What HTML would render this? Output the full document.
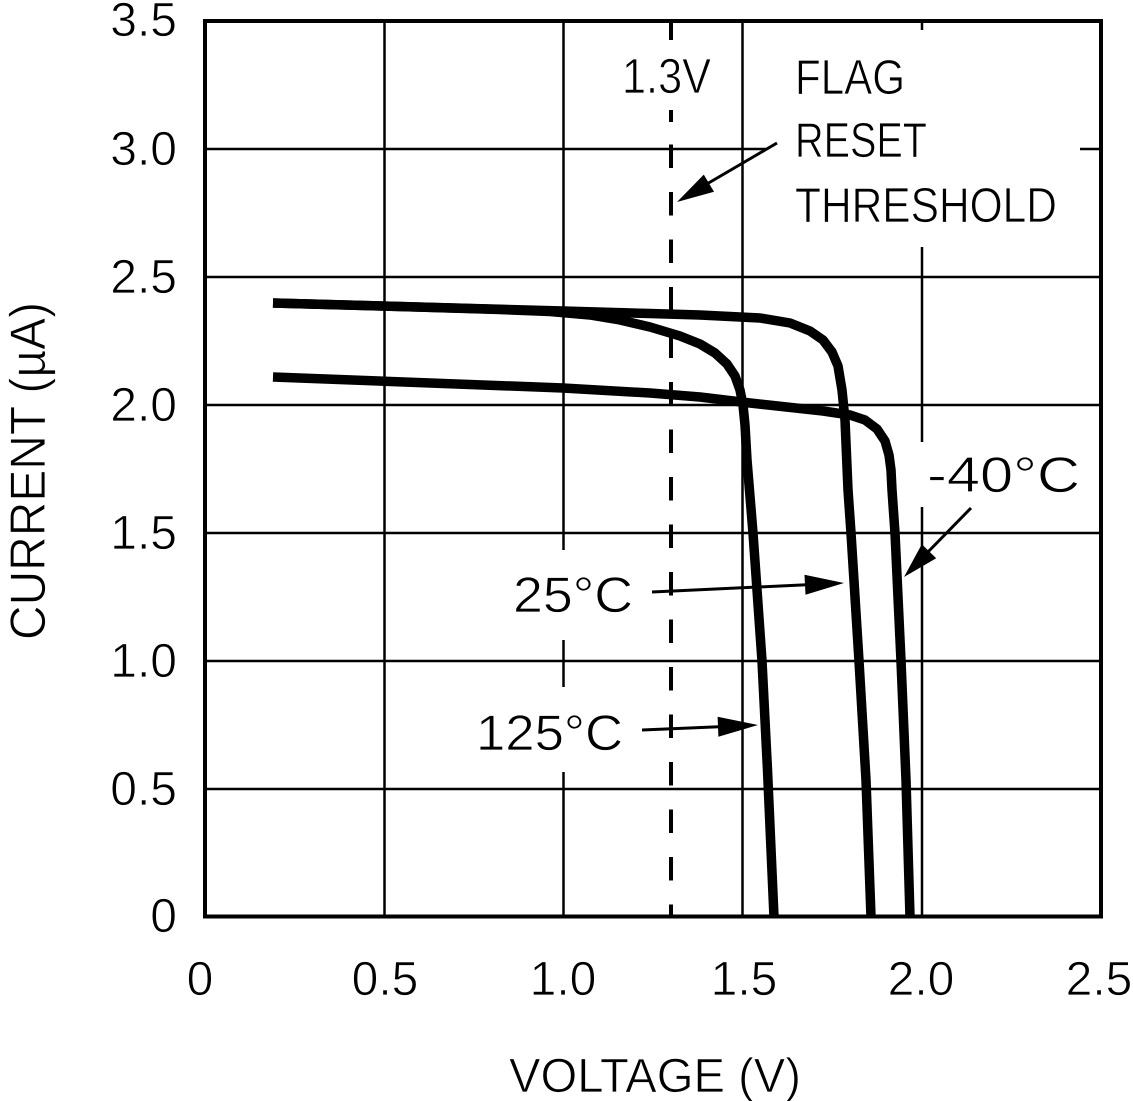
<!DOCTYPE html>
<html>
<head>
<meta charset="utf-8">
<style>
  html, body { margin: 0; padding: 0; background: #fff; }
  svg { display: block; }
  text { font-family: "Liberation Sans", "DejaVu Sans", sans-serif; fill: #000; stroke: #fff; stroke-width: 0.8; }
</style>
</head>
<body>
<svg xmlns="http://www.w3.org/2000/svg" width="1133" height="1101" viewBox="0 0 1133 1101">
  <rect x="0" y="0" width="1133" height="1101" fill="#fff"/>

  <!-- grid -->
  <g stroke="#000" stroke-width="2.5" fill="none">
    <line x1="384.5" y1="21" x2="384.5" y2="917"/>
    <line x1="563.5" y1="21" x2="563.5" y2="550"/>
    <line x1="563.5" y1="640" x2="563.5" y2="687"/>
    <line x1="563.5" y1="772" x2="563.5" y2="917"/>
    <line x1="742.5" y1="21" x2="742.5" y2="917"/>
    <line x1="922" y1="21" x2="922" y2="30"/>
    <line x1="922" y1="247" x2="922" y2="442"/>
    <line x1="922" y1="507" x2="922" y2="917"/>
    <line x1="205" y1="149" x2="767" y2="149"/>
    <line x1="1080" y1="149" x2="1102" y2="149"/>
    <line x1="205" y1="277" x2="1102" y2="277"/>
    <line x1="205" y1="405" x2="1102" y2="405"/>
    <line x1="205" y1="533" x2="1102" y2="533"/>
    <line x1="205" y1="661" x2="1102" y2="661"/>
    <line x1="205" y1="789" x2="1102" y2="789"/>
  </g>

  <!-- 1.3V dashed line -->
  <g stroke="#000" stroke-width="4" fill="none">
    <line x1="671" y1="22" x2="671" y2="40"/>
    <line x1="671" y1="110" x2="671" y2="122"/>
    <line x1="671" y1="144.5" x2="671" y2="917" stroke-dasharray="23.5 24"/>
  </g>

  <!-- curves -->
  <g stroke="#000" stroke-width="9.5" fill="none" stroke-linejoin="round" stroke-linecap="butt">
    <polyline points="273,303 400,306.5 500,309.5 550,311.5 590,315 620,320 650,327 680,336 700,344 715,353 727,364 735,376 740,390 743,405 745,425 747,460 753,533 762,661 767.5,770 774,917"/>
    <polyline points="273,303 563,311 650,313.5 700,315 760,318 790,323 810,331 823,340 832,352 838,366 842,390 845,420 848,490 851,533 859,661 866,780 871,917"/>
    <polyline points="273,377 563,388 650,393 700,397 750,403 823,411 850,415 865,420 877,429 885,441 889,455 891,470 892,490 895,533 901,661 906,780 910,917"/>
  </g>

  <!-- frame -->
  <rect x="205" y="21" width="896" height="895.5" fill="none" stroke="#000" stroke-width="4"/>

  <!-- arrows -->
  <g stroke="#000" stroke-width="3" fill="none">
    <line x1="777" y1="143" x2="700" y2="188"/>
    <line x1="652" y1="592" x2="812" y2="584.5"/>
    <line x1="642" y1="730" x2="725" y2="726.5"/>
    <line x1="971" y1="508" x2="925" y2="555"/>
  </g>
  <g fill="#000" stroke="none">
    <polygon points="677,202 714,191.8 703.8,174.6"/>
    <polygon points="844,583 805.5,594.8 804.5,574.8"/>
    <polygon points="758,725 718.4,736.7 717.6,716.7"/>
    <polygon points="904,577 936.2,558.2 921.8,544.2"/>
  </g>

  <!-- y tick labels -->
  <g font-size="48" text-anchor="end">
    <text x="177" y="36">3.5</text>
    <text x="177" y="165">3.0</text>
    <text x="177" y="293">2.5</text>
    <text x="177" y="421">2.0</text>
    <text x="177" y="549">1.5</text>
    <text x="177" y="677">1.0</text>
    <text x="177" y="805">0.5</text>
    <text x="177" y="932">0</text>
  </g>

  <!-- x tick labels -->
  <g font-size="48" text-anchor="middle">
    <text x="200" y="995">0</text>
    <text x="385" y="995">0.5</text>
    <text x="563" y="995">1.0</text>
    <text x="744" y="995">1.5</text>
    <text x="921" y="995">2.0</text>
    <text x="1099" y="995">2.5</text>
  </g>

  <!-- axis titles -->
  <text x="509" y="1092" font-size="48" textLength="292" lengthAdjust="spacingAndGlyphs">VOLTAGE (V)</text>
  <text transform="translate(45,640) rotate(-90)" x="0" y="0" font-size="50" textLength="338" lengthAdjust="spacingAndGlyphs">CURRENT (µA)</text>

  <!-- annotations -->
  <text x="622" y="93" font-size="49" textLength="89" lengthAdjust="spacingAndGlyphs">1.3V</text>
  <text x="795" y="94" font-size="49" textLength="110" lengthAdjust="spacingAndGlyphs">FLAG</text>
  <text x="795" y="157" font-size="49" textLength="132" lengthAdjust="spacingAndGlyphs">RESET</text>
  <text x="795" y="222" font-size="49" textLength="262" lengthAdjust="spacingAndGlyphs">THRESHOLD</text>

  <text x="513" y="612" font-size="50" textLength="120" lengthAdjust="spacingAndGlyphs">25°C</text>
  <text x="476" y="750" font-size="50" textLength="147" lengthAdjust="spacingAndGlyphs">125°C</text>
  <text x="927" y="492" font-size="50" textLength="153" lengthAdjust="spacingAndGlyphs">-40°C</text>
</svg>
</body>
</html>
